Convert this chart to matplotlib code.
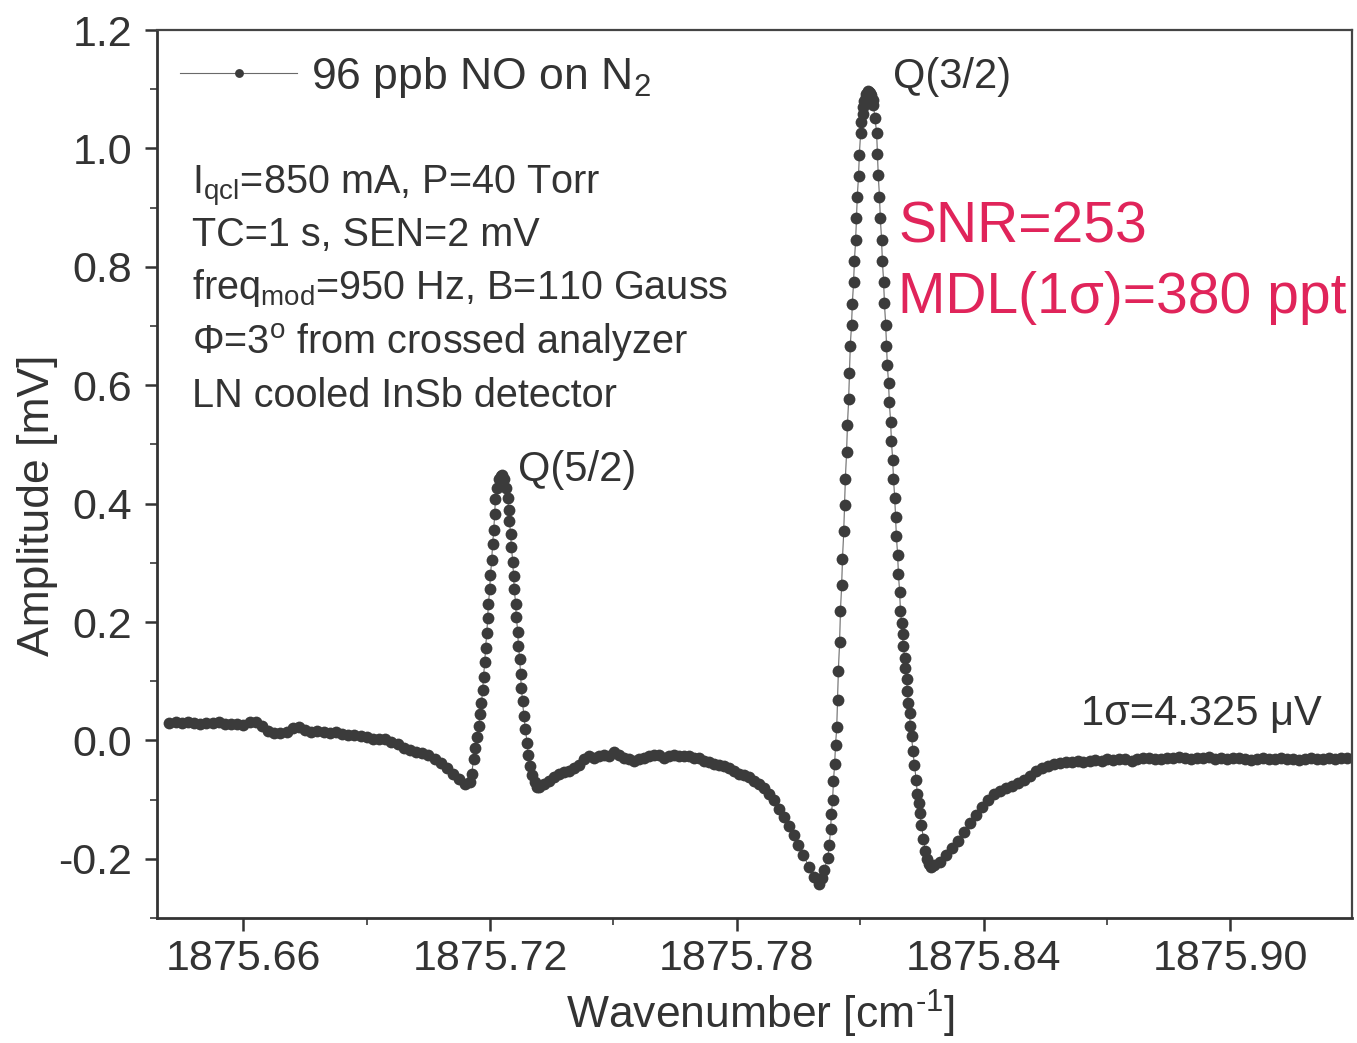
import matplotlib.pyplot as plt
from matplotlib.ticker import MultipleLocator, FormatStrFormatter

plt.rcParams['font.family'] = ['Liberation Sans', 'DejaVu Sans']
plt.rcParams['mathtext.fontset'] = 'custom'
plt.rcParams['mathtext.rm'] = 'Liberation Sans'
plt.rcParams['mathtext.it'] = 'Liberation Sans:italic'
plt.rcParams['axes.unicode_minus'] = False

# wavenumber [cm-1] and amplitude [mV]
wavenumber = [
    # left baseline
    1875.6420, 1875.6435, 1875.6450, 1875.6465, 1875.6480, 1875.6495, 1875.6510, 1875.6525,
    1875.6540, 1875.6555, 1875.6570, 1875.6585, 1875.6600, 1875.6615, 1875.6630, 1875.6645,
    1875.6660, 1875.6675, 1875.6690, 1875.6705, 1875.6720, 1875.6735, 1875.6750, 1875.6765,
    1875.6780, 1875.6795, 1875.6810, 1875.6825, 1875.6840, 1875.6855, 1875.6870, 1875.6885,
    1875.6900, 1875.6915, 1875.6930, 1875.6945, 1875.6960, 1875.6975, 1875.6990, 1875.7005,
    1875.7020, 1875.7035, 1875.7050, 1875.7065, 1875.7080, 1875.7095, 1875.7110, 1875.7125,
    1875.7140, 1875.7150,
    # Q(5/2)
    1875.7155, 1875.7160, 1875.7164, 1875.7167, 1875.7172, 1875.7176, 1875.7179, 1875.7182,
    1875.7184, 1875.7187, 1875.7189, 1875.7192, 1875.7194, 1875.7196, 1875.7199, 1875.7201,
    1875.7204, 1875.7206, 1875.7209, 1875.7211, 1875.7213, 1875.7217, 1875.7221, 1875.7226,
    1875.7230, 1875.7235, 1875.7239, 1875.7243, 1875.7245, 1875.7247, 1875.7250, 1875.7252,
    1875.7255, 1875.7257, 1875.7259, 1875.7262, 1875.7264, 1875.7267, 1875.7269, 1875.7272,
    1875.7274, 1875.7276, 1875.7279, 1875.7282, 1875.7286, 1875.7290, 1875.7293, 1875.7298,
    1875.7303, 1875.7309, 1875.7315,
    # middle baseline
    1875.7320, 1875.7332, 1875.7344, 1875.7356, 1875.7368, 1875.7380, 1875.7393, 1875.7405,
    1875.7417, 1875.7429, 1875.7441, 1875.7453, 1875.7465, 1875.7477, 1875.7490, 1875.7502,
    1875.7514, 1875.7526, 1875.7538, 1875.7550, 1875.7562, 1875.7574, 1875.7587, 1875.7599,
    1875.7611, 1875.7623, 1875.7635, 1875.7647, 1875.7659, 1875.7671, 1875.7684, 1875.7696,
    1875.7708, 1875.7720, 1875.7732, 1875.7744, 1875.7756, 1875.7768, 1875.7781, 1875.7793,
    1875.7805, 1875.7817, 1875.7829, 1875.7841, 1875.7853, 1875.7865, 1875.7878, 1875.7890,
    1875.7902, 1875.7914, 1875.7926, 1875.7938, 1875.7950, 1875.7962, 1875.7975, 1875.7987,
    # Q(3/2)
    1875.7999, 1875.8006, 1875.8013, 1875.8021, 1875.8025, 1875.8028, 1875.8030, 1875.8033,
    1875.8035, 1875.8038, 1875.8040, 1875.8043, 1875.8045, 1875.8047, 1875.8050, 1875.8052,
    1875.8055, 1875.8057, 1875.8060, 1875.8062, 1875.8064, 1875.8067, 1875.8069, 1875.8072,
    1875.8074, 1875.8076, 1875.8079, 1875.8081, 1875.8084, 1875.8086, 1875.8089, 1875.8091,
    1875.8093, 1875.8096, 1875.8098, 1875.8101, 1875.8103, 1875.8106, 1875.8108, 1875.8110,
    1875.8113, 1875.8115, 1875.8118, 1875.8120, 1875.8122, 1875.8125,
    1875.8127, 1875.8130, 1875.8132, 1875.8136, 1875.8140, 1875.8142, 1875.8144, 1875.8147,
    1875.8149, 1875.8152, 1875.8154, 1875.8157, 1875.8159, 1875.8162, 1875.8164, 1875.8166,
    1875.8169, 1875.8171, 1875.8174, 1875.8176, 1875.8179, 1875.8181, 1875.8184, 1875.8186,
    1875.8188, 1875.8191, 1875.8193, 1875.8196, 1875.8198, 1875.8201, 1875.8203, 1875.8205,
    1875.8208, 1875.8210, 1875.8213, 1875.8215, 1875.8217, 1875.8220, 1875.8222, 1875.8225,
    1875.8228, 1875.8232, 1875.8236, 1875.8239, 1875.8242, 1875.8245, 1875.8249, 1875.8254,
    1875.8258, 1875.8263, 1875.8268, 1875.8273,
    # right baseline
    1875.8280, 1875.8295, 1875.8309, 1875.8324, 1875.8338, 1875.8353, 1875.8367, 1875.8382,
    1875.8396, 1875.8411, 1875.8425, 1875.8440, 1875.8454, 1875.8469, 1875.8483, 1875.8498,
    1875.8512, 1875.8527, 1875.8541, 1875.8556, 1875.8571, 1875.8585, 1875.8600, 1875.8614,
    1875.8629, 1875.8643, 1875.8658, 1875.8672, 1875.8687, 1875.8701, 1875.8716, 1875.8730,
    1875.8745, 1875.8760, 1875.8774, 1875.8789, 1875.8803, 1875.8818, 1875.8832, 1875.8847,
    1875.8861, 1875.8876, 1875.8890, 1875.8905, 1875.8920, 1875.8934, 1875.8949, 1875.8963,
    1875.8978, 1875.8992, 1875.9007, 1875.9021, 1875.9036, 1875.9050, 1875.9065, 1875.9079,
    1875.9094, 1875.9109, 1875.9123, 1875.9138, 1875.9152, 1875.9167, 1875.9181, 1875.9196,
    1875.9211, 1875.9225, 1875.9240, 1875.9254, 1875.9269, 1875.9283,
]

amplitude = [
    # left baseline
    0.030, 0.032, 0.029, 0.031, 0.030, 0.028, 0.030, 0.029,
    0.031, 0.028, 0.027, 0.028, 0.026, 0.031, 0.031, 0.024,
    0.016, 0.013, 0.013, 0.014, 0.021, 0.022, 0.017, 0.015,
    0.016, 0.014, 0.013, 0.015, 0.011, 0.009, 0.010, 0.007,
    0.005, 0.003, 0.002, 0.003, -0.002, -0.006, -0.012, -0.016,
    -0.019, -0.021, -0.025, -0.031, -0.038, -0.047, -0.056, -0.065,
    -0.073, -0.071,
    # Q(5/2)
    -0.057, -0.032, -0.012, 0.005, 0.024, 0.044, 0.064, 0.086,
    0.108, 0.132, 0.157, 0.181, 0.206, 0.231, 0.255, 0.280,
    0.305, 0.331, 0.356, 0.383, 0.407, 0.427, 0.441, 0.447,
    0.449, 0.441, 0.427, 0.410, 0.390, 0.370, 0.348, 0.326,
    0.302, 0.278, 0.255, 0.231, 0.208, 0.184, 0.160, 0.137,
    0.113, 0.089, 0.066, 0.042, 0.019, -0.005, -0.025, -0.044,
    -0.059, -0.071, -0.078,
    # middle baseline
    -0.079, -0.073, -0.068, -0.062, -0.057, -0.054, -0.051, -0.046,
    -0.041, -0.032, -0.027, -0.029, -0.027, -0.025, -0.027, -0.020,
    -0.024, -0.029, -0.032, -0.035, -0.032, -0.029, -0.027, -0.024,
    -0.025, -0.029, -0.027, -0.025, -0.027, -0.027, -0.027, -0.029,
    -0.030, -0.034, -0.037, -0.039, -0.042, -0.044, -0.047, -0.052,
    -0.056, -0.059, -0.062, -0.068, -0.074, -0.081, -0.091, -0.101,
    -0.115, -0.130, -0.145, -0.160, -0.177, -0.194, -0.213, -0.230,
    # Q(3/2)
    -0.243, -0.233, -0.218, -0.198, -0.176, -0.150, -0.125, -0.100,
    -0.069, -0.039, -0.008, 0.022, 0.069, 0.118, 0.167, 0.218,
    0.263, 0.307, 0.353, 0.397, 0.442, 0.488, 0.532, 0.577,
    0.621, 0.667, 0.702, 0.738, 0.775, 0.810, 0.846, 0.883,
    0.918, 0.954, 0.989, 1.026, 1.045, 1.058, 1.070, 1.080,
    1.087, 1.092, 1.095, 1.097, 1.095, 1.094,
    1.090, 1.082, 1.073, 1.052, 1.026, 0.991, 0.955, 0.918,
    0.883, 0.846, 0.810, 0.775, 0.739, 0.702, 0.667, 0.635,
    0.603, 0.571, 0.538, 0.506, 0.474, 0.442, 0.410, 0.378,
    0.346, 0.314, 0.282, 0.250, 0.218, 0.198, 0.179, 0.160,
    0.140, 0.122, 0.103, 0.083, 0.064, 0.046, 0.025, 0.007,
    -0.017, -0.041, -0.066, -0.090, -0.105, -0.123, -0.142, -0.167,
    -0.186, -0.201, -0.209, -0.213,
    # right baseline
    -0.211, -0.205, -0.194, -0.182, -0.170, -0.154, -0.140, -0.126,
    -0.112, -0.101, -0.091, -0.085, -0.080, -0.077, -0.072, -0.066,
    -0.060, -0.052, -0.046, -0.043, -0.040, -0.038, -0.037, -0.036,
    -0.035, -0.036, -0.034, -0.033, -0.034, -0.032, -0.033, -0.031,
    -0.032, -0.034, -0.031, -0.029, -0.030, -0.032, -0.031, -0.029,
    -0.030, -0.028, -0.029, -0.031, -0.029, -0.030, -0.028, -0.031,
    -0.030, -0.032, -0.030, -0.029, -0.031, -0.033, -0.031, -0.030,
    -0.032, -0.031, -0.030, -0.032, -0.031, -0.033, -0.031, -0.030,
    -0.032, -0.031, -0.030, -0.031, -0.030, -0.030,
]

info_lines = [
    r'I$_{\rm qcl}$=850 mA, P=40 Torr',
    'TC=1 s, SEN=2 mV',
    r'freq$_{\rm mod}$=950 Hz, B=110 Gauss',
    r'$\Phi$=3$^{\rm o}$ from crossed analyzer',
    'LN cooled InSb detector',
]

fig = plt.figure(figsize=(13.57, 10.43), dpi=100)
ax = fig.add_axes([0.1157, 0.1198, 0.8806, 0.8514])

ax.plot(wavenumber, amplitude, '-', color='#6a6a6a', lw=0.8,
        marker='o', ms=8.5, mfc='#3b3b3b', mec='#3b3b3b', mew=0,
        label=r'96 ppb NO on N$_2$')

ax.set_xlim(1875.639, 1875.9296)
ax.set_ylim(-0.3, 1.2)
ax.xaxis.set_major_locator(MultipleLocator(0.06))
ax.xaxis.set_minor_locator(MultipleLocator(0.03))
ax.xaxis.set_major_formatter(FormatStrFormatter('%.2f'))
ax.yaxis.set_major_locator(MultipleLocator(0.2))
ax.yaxis.set_minor_locator(MultipleLocator(0.1))
ax.yaxis.set_major_formatter(FormatStrFormatter('%.1f'))

for side in ['left', 'bottom']:
    ax.spines[side].set_linewidth(2.0)
    ax.spines[side].set_color('#333333')
for side in ['top', 'right']:
    ax.spines[side].set_linewidth(1.6)
    ax.spines[side].set_color('#444444')

ax.tick_params(axis='both', which='major', direction='out', length=9, width=1.8,
               color='#333333', labelsize=31, labelcolor='#333333')
ax.tick_params(axis='both', which='minor', direction='out', length=5, width=1.4,
               color='#555555')
ax.tick_params(axis='x', which='major', pad=6)
ax.tick_params(axis='y', which='major', pad=9)

ax.set_xlabel(r'Wavenumber [cm$^{\text{-}1}$]', fontsize=32, color='#333333', va='center')
ax.xaxis.set_label_coords(0.505, -0.108)
ax.set_ylabel('Amplitude [mV]', fontsize=32, color='#333333', va='center')
ax.yaxis.set_label_coords(-0.100, 0.465)

ax.legend(loc='center left', bbox_to_anchor=(0.019, 0.947), frameon=False,
          fontsize=32, handlelength=2.65, handletextpad=0.3, borderpad=0,
          borderaxespad=0, markerscale=0.75, labelcolor='#333333')

baselines = [0.816, 0.757, 0.697, 0.635, 0.576]
for text, yb in zip(info_lines, baselines):
    ax.text(0.029, yb, text, transform=ax.transAxes, fontsize=28.5,
            color='#333333', va='baseline', ha='left')

ax.text(1875.7267, 0.457, 'Q(5/2)', fontsize=30, color='#333333', va='center', ha='left')
ax.text(1875.8181, 1.121, 'Q(3/2)', fontsize=30, color='#333333', va='center', ha='left')
ax.text(1875.9223, 0.044, '1σ=4.325 μV', fontsize=30, color='#333333', va='center', ha='right')

ax.text(1875.8193, 0.866, 'SNR=253', fontsize=41, color='#e0245a', va='center', ha='left')
ax.text(1875.8193, 0.748, 'MDL(1σ)=380 ppt', fontsize=41, color='#e0245a',
        va='center', ha='left', clip_on=True)

fig.savefig('out.png', dpi=100)
